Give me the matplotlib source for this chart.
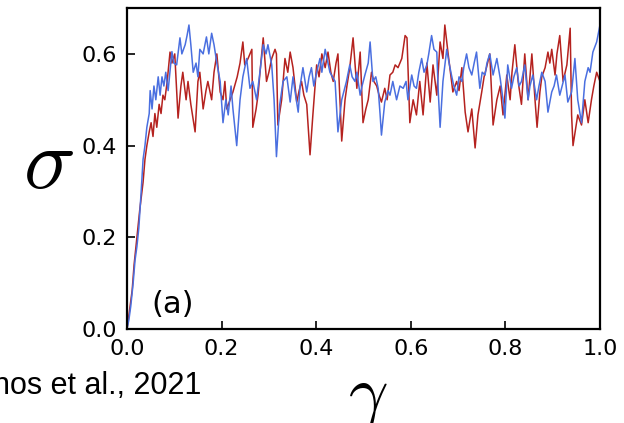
import matplotlib
matplotlib.use("Agg")
import matplotlib.pyplot as plt

# stress-strain curves
gamma_red = [
    0.000, 0.004, 0.011, 0.015, 0.021, 0.027, 0.034, 0.038, 0.042, 0.047,
    0.051, 0.055, 0.059, 0.063, 0.068, 0.072, 0.076, 0.080, 0.085, 0.091,
    0.095, 0.101, 0.108, 0.114, 0.118, 0.125, 0.129, 0.135, 0.144, 0.150,
    0.154, 0.161, 0.167, 0.171, 0.179, 0.184, 0.190, 0.197, 0.203, 0.207,
    0.211, 0.218, 0.224, 0.233, 0.239, 0.245, 0.249, 0.256, 0.264, 0.266,
    0.273, 0.277, 0.283, 0.288, 0.295, 0.300, 0.306, 0.313, 0.316, 0.319,
    0.327, 0.334, 0.340, 0.345, 0.351, 0.359, 0.364, 0.369, 0.374, 0.380,
    0.387, 0.393, 0.401, 0.406, 0.412, 0.419, 0.425, 0.431, 0.436, 0.442,
    0.446, 0.454, 0.461, 0.465, 0.471, 0.478, 0.486, 0.493, 0.499, 0.505,
    0.510, 0.517, 0.522, 0.528, 0.533, 0.538, 0.545, 0.550, 0.556, 0.562,
    0.567, 0.573, 0.581, 0.588, 0.592, 0.598, 0.605, 0.612, 0.619, 0.626,
    0.634, 0.641, 0.647, 0.655, 0.662, 0.668, 0.672, 0.679, 0.685, 0.689,
    0.697, 0.702, 0.708, 0.715, 0.721, 0.729, 0.736, 0.742, 0.750, 0.755,
    0.760, 0.767, 0.774, 0.782, 0.789, 0.795, 0.803, 0.810, 0.814, 0.820,
    0.827, 0.834, 0.841, 0.848, 0.856, 0.863, 0.867, 0.873, 0.877, 0.884,
    0.890, 0.894, 0.898, 0.905, 0.909, 0.915, 0.922, 0.930, 0.937, 0.940,
    0.943, 0.949, 0.953, 0.961, 0.968, 0.975, 0.982, 0.987, 0.993, 1.000,
]
sigma_red = [
    0.000, 0.030, 0.085, 0.140, 0.200, 0.260, 0.320, 0.370, 0.400, 0.430,
    0.450, 0.420, 0.470, 0.440, 0.490, 0.470, 0.510, 0.500, 0.540, 0.604,
    0.580, 0.600, 0.460, 0.530, 0.560, 0.500, 0.540, 0.490, 0.430, 0.540,
    0.560, 0.480, 0.520, 0.540, 0.500, 0.560, 0.600, 0.517, 0.500, 0.540,
    0.480, 0.500, 0.517, 0.550, 0.580, 0.626, 0.576, 0.590, 0.610, 0.440,
    0.480, 0.510, 0.580, 0.635, 0.540, 0.560, 0.590, 0.610, 0.600, 0.445,
    0.500, 0.590, 0.560, 0.604, 0.570, 0.495, 0.520, 0.540, 0.510, 0.490,
    0.380, 0.467, 0.576, 0.550, 0.600, 0.570, 0.604, 0.560, 0.540, 0.580,
    0.600, 0.410, 0.500, 0.530, 0.570, 0.635, 0.525, 0.604, 0.450, 0.480,
    0.500, 0.560, 0.540, 0.530, 0.510, 0.495, 0.525, 0.500, 0.554, 0.560,
    0.576, 0.570, 0.590, 0.640, 0.635, 0.450, 0.500, 0.467, 0.540, 0.467,
    0.580, 0.495, 0.576, 0.510, 0.626, 0.590, 0.663, 0.600, 0.550, 0.517,
    0.540, 0.520, 0.570, 0.473, 0.430, 0.480, 0.395, 0.467, 0.517, 0.550,
    0.570, 0.600, 0.445, 0.500, 0.530, 0.467, 0.554, 0.500, 0.560, 0.620,
    0.540, 0.490, 0.600, 0.500, 0.600, 0.495, 0.440, 0.517, 0.550, 0.570,
    0.604, 0.580, 0.610, 0.554, 0.600, 0.640, 0.540, 0.576, 0.656, 0.467,
    0.400, 0.440, 0.467, 0.445, 0.500, 0.450, 0.500, 0.530, 0.560, 0.540,
]

gamma_blue = [
    0.000, 0.004, 0.008, 0.013, 0.017, 0.021, 0.025, 0.030, 0.034, 0.038,
    0.042, 0.047, 0.049, 0.053, 0.057, 0.061, 0.066, 0.070, 0.074, 0.078,
    0.082, 0.087, 0.095, 0.099, 0.105, 0.112, 0.116, 0.123, 0.127, 0.131,
    0.135, 0.140, 0.146, 0.150, 0.154, 0.161, 0.168, 0.173, 0.179, 0.184,
    0.190, 0.197, 0.203, 0.209, 0.214, 0.220, 0.224, 0.232, 0.239, 0.245,
    0.253, 0.260, 0.266, 0.274, 0.281, 0.288, 0.294, 0.298, 0.306, 0.311,
    0.316, 0.323, 0.330, 0.338, 0.345, 0.351, 0.355, 0.362, 0.366, 0.372,
    0.380, 0.385, 0.390, 0.395, 0.401, 0.408, 0.412, 0.419, 0.425, 0.429,
    0.440, 0.446, 0.454, 0.459, 0.464, 0.471, 0.476, 0.482, 0.486, 0.493,
    0.497, 0.503, 0.510, 0.514, 0.520, 0.526, 0.531, 0.535, 0.538, 0.545,
    0.552, 0.556, 0.562, 0.570, 0.577, 0.584, 0.590, 0.594, 0.602, 0.607,
    0.612, 0.617, 0.623, 0.628, 0.634, 0.638, 0.644, 0.649, 0.655, 0.658,
    0.662, 0.668, 0.676, 0.681, 0.686, 0.691, 0.697, 0.702, 0.708, 0.712,
    0.718, 0.723, 0.729, 0.734, 0.739, 0.746, 0.751, 0.757, 0.761, 0.767,
    0.774, 0.782, 0.789, 0.795, 0.799, 0.805, 0.813, 0.818, 0.824, 0.829,
    0.834, 0.841, 0.848, 0.852, 0.858, 0.866, 0.871, 0.877, 0.884, 0.890,
    0.898, 0.903, 0.908, 0.915, 0.920, 0.926, 0.932, 0.940, 0.947, 0.953,
    0.961, 0.968, 0.975, 0.979, 0.985, 0.993, 1.000,
]
sigma_blue = [
    0.000, 0.020, 0.050, 0.100, 0.150, 0.180, 0.220, 0.300, 0.370, 0.400,
    0.440, 0.470, 0.520, 0.480, 0.530, 0.500, 0.550, 0.510, 0.550, 0.530,
    0.560, 0.520, 0.605, 0.580, 0.576, 0.635, 0.600, 0.620, 0.640, 0.663,
    0.620, 0.560, 0.580, 0.550, 0.610, 0.600, 0.637, 0.600, 0.645, 0.620,
    0.580, 0.540, 0.450, 0.500, 0.467, 0.530, 0.480, 0.400, 0.500, 0.550,
    0.590, 0.525, 0.540, 0.500, 0.560, 0.620, 0.600, 0.620, 0.576, 0.500,
    0.376, 0.490, 0.540, 0.550, 0.495, 0.550, 0.520, 0.473, 0.530, 0.570,
    0.517, 0.550, 0.570, 0.530, 0.560, 0.590, 0.560, 0.610, 0.580, 0.560,
    0.540, 0.430, 0.500, 0.520, 0.540, 0.576, 0.550, 0.540, 0.560, 0.510,
    0.530, 0.554, 0.580, 0.626, 0.540, 0.550, 0.525, 0.470, 0.423, 0.495,
    0.520, 0.510, 0.540, 0.500, 0.530, 0.525, 0.540, 0.500, 0.554, 0.530,
    0.525, 0.560, 0.590, 0.560, 0.576, 0.600, 0.640, 0.610, 0.604, 0.520,
    0.440, 0.540, 0.610, 0.580, 0.554, 0.530, 0.510, 0.550, 0.540, 0.570,
    0.600, 0.570, 0.554, 0.580, 0.604, 0.525, 0.560, 0.554, 0.580, 0.600,
    0.554, 0.590, 0.547, 0.500, 0.460, 0.576, 0.525, 0.550, 0.570, 0.530,
    0.540, 0.576, 0.500, 0.530, 0.554, 0.500, 0.530, 0.560, 0.540, 0.473,
    0.517, 0.530, 0.554, 0.510, 0.530, 0.554, 0.495, 0.517, 0.590, 0.500,
    0.450, 0.540, 0.570, 0.560, 0.604, 0.626, 0.663,
]

x_ticks = [0.0, 0.2, 0.4, 0.6, 0.8, 1.0]
y_ticks = [0.0, 0.2, 0.4, 0.6]

plt.rcParams["mathtext.fontset"] = "cm"

fig = plt.figure(figsize=(6.24, 4.23), dpi=100)
ax = fig.add_axes([0.2035, 0.222, 0.758, 0.759])

ax.plot(gamma_red, sigma_red, color="#b5221f", linewidth=1.1)
ax.plot(gamma_blue, sigma_blue, color="#4a6fe0", linewidth=1.1)

ax.set_xlim(0, 1)
ax.set_ylim(0, 0.70)
ax.set_xticks(x_ticks)
ax.set_yticks(y_ticks)
ax.set_xticklabels([f"{t:.1f}" for t in x_ticks])
ax.set_yticklabels([f"{t:.1f}" for t in y_ticks])
ax.tick_params(direction="in", length=6, width=1.2, labelsize=16, pad=7)
for sp in ax.spines.values():
    sp.set_linewidth(1.6)

ax.text(0.052, 0.05, "(a)", transform=ax.transAxes, fontsize=22)

# axis symbols and the (cropped) source credit
fig.text(0.077, 0.612, r"$\sigma$", fontsize=62, ha="center", va="center")
fig.text(0.59, 0.06, r"$\gamma$", fontsize=50, ha="center", va="center")
fig.text(-0.012, 0.088, "nos et al., 2021", fontsize=22,
         family="Liberation Sans", ha="left", va="center")

fig.savefig("out.png", dpi=100)
